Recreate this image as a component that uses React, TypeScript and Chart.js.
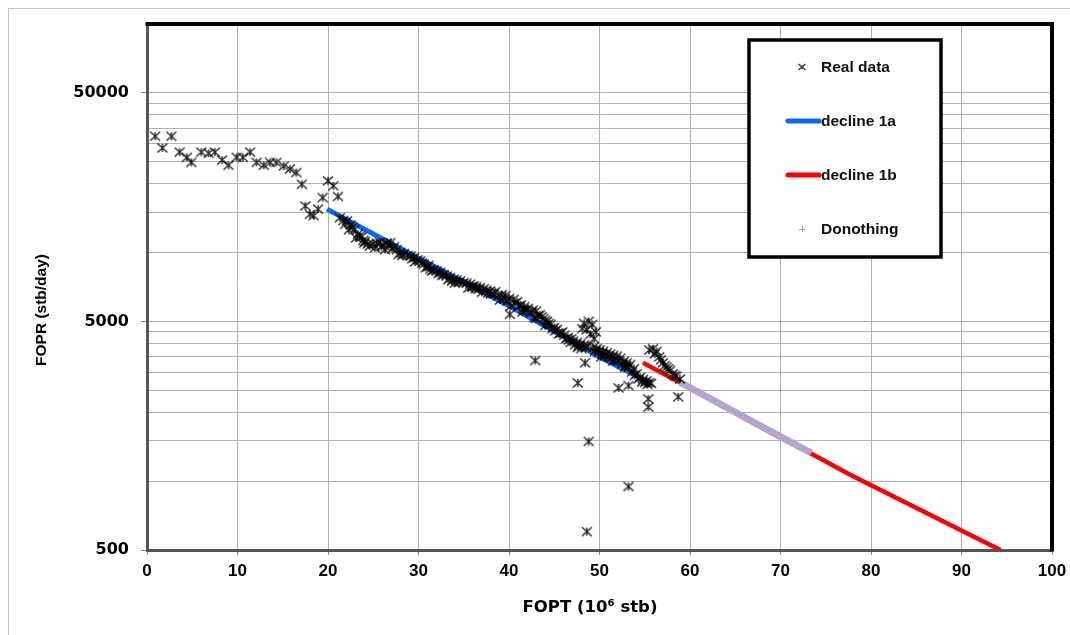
import React, { useEffect, useRef } from "react";
import { Chart, registerables } from "chart.js";

Chart.register(...registerables);

// ---------- data ----------
const xTickValues = [0, 10, 20, 30, 40, 50, 60, 70, 80, 90, 100];
const yGridValues = [
  500, 1000, 1500, 2000, 2500, 3000, 3500, 4000, 4500, 5000,
  10000, 15000, 20000, 25000, 30000, 35000, 40000, 45000, 50000, 100000,
];
const yLabelValues = [500, 5000, 50000];

// FOPT (10^6 stb), FOPR (stb/day)
const realData: [number, number][] = [
  [0.9, 32300], [1.7, 28700], [2.7, 32300], [3.6, 27500], [4.4, 26100], [4.9, 24800],
  [6.0, 27500], [6.8, 27200], [7.5, 27500], [8.3, 25400], [9.0, 24100], [9.9, 26100],
  [10.6, 26100], [11.4, 27500], [12.1, 24800], [12.9, 24100], [13.6, 24800], [14.3, 24800],
  [15.1, 23900], [15.8, 23200], [16.5, 22400], [17.1, 19900], [17.5, 16000], [18.0, 14700],
  [18.4, 14500], [18.9, 15500], [19.4, 17400], [20.0, 20600], [20.6, 19600], [21.1, 17600],
  [21.3, 14200], [21.7, 13800], [22.1, 13770], [22.5, 13200], [22.9, 12600], [23.3, 12050],
  [23.7, 11700], [24.1, 11200], [24.6, 10690], [25.0, 10900], [25.4, 11000], [25.7, 11070],
  [26.1, 10800], [26.5, 11000], [26.9, 11070], [27.3, 10600], [27.6, 10300], [28.0, 10000],
  [28.4, 9900], [28.8, 9700], [29.1, 9660], [29.5, 9500], [29.9, 9300], [30.2, 9200],
  [30.6, 8900], [31.0, 8650], [31.3, 8450], [31.7, 8400], [32.0, 8300], [32.4, 8180],
  [32.8, 8000], [33.1, 7900], [33.5, 7780], [33.9, 7650], [34.2, 7600], [34.6, 7520],
  [35.0, 7400], [35.3, 7350], [35.7, 7270], [36.1, 7150], [36.4, 7100], [36.8, 7030],
  [37.2, 6950], [37.5, 6850], [37.9, 6790], [38.3, 6600], [38.8, 6460], [39.2, 6550],
  [39.6, 6500], [40.0, 6300], [40.5, 6240], [40.9, 6100], [41.3, 5900], [41.7, 5800],
  [42.1, 5700], [42.6, 5600], [43.0, 5550], [43.4, 5350], [43.8, 5150], [44.2, 5000],
  [44.6, 4850], [45.0, 4700], [45.3, 4610], [45.7, 4450], [46.1, 4350], [46.5, 4250],
  [47.1, 4100], [47.5, 4050], [47.9, 4000], [48.3, 3950], [48.7, 3900], [49.3, 3850],
  [49.7, 3800], [50.0, 3750], [50.4, 3706], [50.8, 3650], [51.2, 3600], [51.5, 3550],
  [51.9, 3523], [52.3, 3450], [52.7, 3350], [53.0, 3300], [53.4, 3238], [53.8, 3100],
  [54.1, 2950], [54.5, 2850], [54.8, 2785], [55.2, 2750], [55.5, 2700], [55.7, 2680],
  [24.0, 11000], [25.2, 10500], [26.3, 10300], [27.8, 9800], [29.6, 9100], [31.5, 8300],
  [33.3, 7600], [35.5, 7000], [37.0, 6700], [39.0, 6200], [40.1, 5370], [40.2, 5850],
  [41.5, 5500], [42.8, 5200], [44.0, 4800], [45.5, 4400], [46.8, 4050], [48.0, 3800],
  [50.2, 3500], [51.5, 3350], [52.8, 3150], [53.6, 3000], [54.3, 2800], [55.0, 2700],
  [21.9, 13300], [22.7, 12900], [23.5, 11800], [24.4, 10900], [25.9, 10600], [26.7, 10700],
  [27.1, 10400], [28.2, 9700], [29.3, 9400], [30.4, 9000], [31.1, 8800], [32.2, 8100],
  [33.7, 7500], [34.4, 7400], [35.9, 7100], [36.6, 6900], [38.0, 6600], [38.5, 6750],
  [39.4, 6300], [40.7, 6000], [41.1, 5850], [41.9, 5600], [42.4, 5450], [43.2, 5300],
  [43.6, 5250], [44.4, 4900], [44.8, 4650], [45.9, 4500], [46.3, 4200], [46.9, 4200],
  [47.3, 3950], [47.7, 3900], [48.5, 3850], [49.5, 3700], [49.9, 3650], [50.6, 3550],
  [51.0, 3500], [51.7, 3400], [52.1, 3350], [52.5, 3250], [53.2, 3150], [53.9, 2900],
  [54.7, 2720], [55.3, 2650],
  [22.3, 12600], [23.1, 11600], [23.9, 11300], [30.8, 8600], [32.6, 7950], [34.0, 7350],
  [36.3, 6950], [37.7, 6650], [39.8, 6150], [41.6, 5650], [43.0, 5150], [44.0, 5050],
  [45.1, 4550], [46.6, 4150], [47.6, 3850], [50.3, 3600], [51.3, 3450], [52.9, 3200],
  [48.3, 4900], [48.8, 5000], [49.2, 4850], [48.6, 4600], [49.0, 4400], [49.4, 4200],
  [49.6, 4500], [48.1, 4650],
  [55.5, 3750], [55.9, 3800], [56.3, 3700], [56.6, 3500], [57.0, 3296], [57.4, 3150],
  [57.8, 3050], [58.1, 2950], [58.5, 2877], [58.9, 2800], [56.1, 3600], [56.8, 3400],
  [57.2, 3200], [57.6, 3100], [58.3, 2900],
  [42.9, 3372], [48.4, 3296], [47.6, 2690], [48.8, 1492], [53.2, 948], [48.6, 602],
  [52.1, 2559], [53.2, 2620], [55.4, 2290], [55.4, 2112], [58.7, 2339],
];

const decline1a: [number, number][] = [
  [19.9, 15500], [30, 9450], [40, 5850], [50, 3500], [55.6, 2690],
];
const decline1b: [number, number][] = [
  [54.8, 3300], [60, 2560], [77.7, 1067], [94.3, 500],
];
const donothing: [number, number][] = [
  [58.9, 2710], [64.8, 2022], [69.2, 1626], [73.4, 1328],
];

const legendLabels = ["Real data", "decline 1a", "decline 1b", "Donothing"];
const xTitle = "FOPT (10\u2076 stb)";
const yTitle = "FOPR (stb/day)";

// ---------- styles ----------
const BLUE = "#0a66ff";
const RED = "#ff0000";
const LAVENDER = "#b3a4d2";
const ARIAL = "'Liberation Sans', Arial, sans-serif";
const DEJAVU = "'DejaVu Sans', sans-serif";

function makeStar(): HTMLCanvasElement {
  const c = document.createElement("canvas");
  c.width = 12;
  c.height = 12;
  const g = c.getContext("2d")!;
  g.strokeStyle = "rgba(0,0,0,0.85)";
  g.lineWidth = 1.4;
  g.beginPath();
  g.moveTo(1, 1.5);
  g.lineTo(11, 10.5);
  g.moveTo(11, 1.5);
  g.lineTo(1, 10.5);
  g.moveTo(6, 2);
  g.lineTo(6, 10);
  g.stroke();
  return c;
}

const toXY = (arr: [number, number][]) => arr.map(([x, y]) => ({ x, y }));

const zeroPad = (s: any) => {
  s.paddingLeft = 0;
  s.paddingRight = 0;
  s.paddingTop = 0;
  s.paddingBottom = 0;
};

const overlayPlugin = {
  id: "overlay",
  afterDraw(chart: any) {
    const { ctx, chartArea } = chart;
    const { left, top, right, bottom } = chartArea;
    ctx.save();
    // top/right frame
    ctx.strokeStyle = "#000";
    ctx.lineWidth = 4;
    ctx.beginPath();
    ctx.moveTo(left - 1.5, top);
    ctx.lineTo(right, top);
    ctx.lineTo(right, bottom + 1.5);
    ctx.stroke();

    // axis titles
    ctx.fillStyle = "#000";
    ctx.font = `bold 16.5px ${DEJAVU}`;
    ctx.textAlign = "center";
    ctx.textBaseline = "middle";
    ctx.fillText(xTitle, left + 443, bottom + 58);
    ctx.save();
    ctx.translate(33, top + 286);
    ctx.rotate(-Math.PI / 2);
    ctx.font = `bold 15.5px ${ARIAL}`;
    ctx.fillText(yTitle, 0, 0);
    ctx.restore();

    // legend
    const bx = left + 602;
    const by = top + 16;
    const bw = 192;
    const bh = 217;
    ctx.fillStyle = "#fff";
    ctx.fillRect(bx, by, bw, bh);
    ctx.strokeStyle = "#000";
    ctx.lineWidth = 3.5;
    ctx.strokeRect(bx, by, bw, bh);
    const rows = [27, 81, 135, 189];
    const mx = bx + 53;
    ctx.font = `bold 15.5px ${ARIAL}`;
    ctx.textAlign = "left";
    ctx.textBaseline = "middle";
    // Real data marker
    ctx.strokeStyle = "#333";
    ctx.lineWidth = 1.3;
    ctx.beginPath();
    ctx.moveTo(mx - 3.5, by + rows[0] - 3);
    ctx.lineTo(mx + 3.5, by + rows[0] + 3);
    ctx.moveTo(mx + 3.5, by + rows[0] - 3);
    ctx.lineTo(mx - 3.5, by + rows[0] + 3);
    ctx.moveTo(mx, by + rows[0] - 1.5);
    ctx.lineTo(mx, by + rows[0] + 2);
    ctx.stroke();
    // lines
    ctx.lineCap = "round";
    ctx.lineWidth = 5;
    ctx.strokeStyle = BLUE;
    ctx.beginPath();
    ctx.moveTo(bx + 39, by + rows[1]);
    ctx.lineTo(bx + 70, by + rows[1]);
    ctx.stroke();
    ctx.strokeStyle = RED;
    ctx.beginPath();
    ctx.moveTo(bx + 39, by + rows[2]);
    ctx.lineTo(bx + 70, by + rows[2]);
    ctx.stroke();
    ctx.lineCap = "butt";
    // plus marker
    ctx.strokeStyle = "#a898c8";
    ctx.lineWidth = 1;
    ctx.beginPath();
    ctx.moveTo(mx - 3, by + rows[3] + 0.5);
    ctx.lineTo(mx + 3, by + rows[3] + 0.5);
    ctx.moveTo(mx + 0.5, by + rows[3] - 3);
    ctx.lineTo(mx + 0.5, by + rows[3] + 3);
    ctx.stroke();
    // texts
    ctx.fillStyle = "#111";
    legendLabels.forEach((t, i) => {
      ctx.fillText(t, bx + 72, by + rows[i] + 1);
    });
    ctx.restore();
  },
};

export default function App() {
  const ref = useRef<HTMLCanvasElement | null>(null);

  useEffect(() => {
    const canvas = ref.current;
    if (!canvas) return;
    const star = makeStar();
    const chart = new Chart(canvas, {
      type: "scatter",
      data: {
        datasets: [
          {
            label: legendLabels[0],
            data: toXY(realData),
            pointStyle: star as any,
            pointRadius: 5,
            showLine: false,
            order: 0,
          },
          {
            label: legendLabels[3],
            data: toXY(donothing),
            showLine: true,
            borderColor: LAVENDER,
            borderWidth: 7,
            pointRadius: 0,
            order: 1,
          },
          {
            label: legendLabels[1],
            data: toXY(decline1a),
            showLine: true,
            borderColor: BLUE,
            borderWidth: 5,
            pointRadius: 0,
            order: 2,
          },
          {
            label: legendLabels[2],
            data: toXY(decline1b),
            showLine: true,
            borderColor: RED,
            borderWidth: 4.5,
            pointRadius: 0,
            order: 3,
          },
        ],
      },
      options: {
        animation: false,
        responsive: false,
        layout: { padding: { left: 0, right: 18, top: 15, bottom: 0 } },
        plugins: {
          legend: { display: false },
          tooltip: { enabled: false },
        },
        scales: {
          x: {
            type: "linear",
            min: 0,
            max: 100,
            afterBuildTicks: (s: any) => {
              s.ticks = xTickValues.map((v) => ({ value: v }));
            },
            afterFit: (s: any) => {
              s.height = 84;
              zeroPad(s);
            },
            ticks: {
              autoSkip: false,
              maxRotation: 0,
              padding: 6,
              color: "#000",
              font: { family: ARIAL, size: 17, weight: "bold" },
            },
            grid: { color: "#b2b2b2", lineWidth: 1, tickLength: 5, tickColor: "#888" },
            border: { color: "#555", width: 3 },
          },
          y: {
            type: "logarithmic",
            min: 500,
            max: 100000,
            afterBuildTicks: (s: any) => {
              s.ticks = yGridValues.map((v) => ({ value: v }));
            },
            afterFit: (s: any) => {
              s.width = 138;
              zeroPad(s);
            },
            ticks: {
              autoSkip: false,
              padding: 12,
              color: "#000",
              font: { family: DEJAVU, size: 16, weight: "bold" },
              callback: (v: any) => (yLabelValues.includes(Number(v)) ? String(v) : ""),
            },
            grid: {
              color: "#b2b2b2",
              lineWidth: 1,
              tickLength: 6,
              tickColor: (c: any) =>
                c.tick && yLabelValues.includes(c.tick.value) ? "#888" : "rgba(0,0,0,0)",
            },
            border: { color: "#555", width: 3 },
          },
        },
      },
      plugins: [overlayPlugin],
    } as any);
    return () => chart.destroy();
  }, []);

  return (
    <div
      style={{
        position: "fixed",
        left: 8,
        top: 8,
        width: 1062,
        height: 627,
        borderTop: "1px solid #c4c4c4",
        borderLeft: "1px solid #c4c4c4",
        boxSizing: "border-box",
        background: "#fff",
      }}
    >
      <canvas ref={ref} width={1061} height={625} style={{ display: "block" }} />
    </div>
  );
}
